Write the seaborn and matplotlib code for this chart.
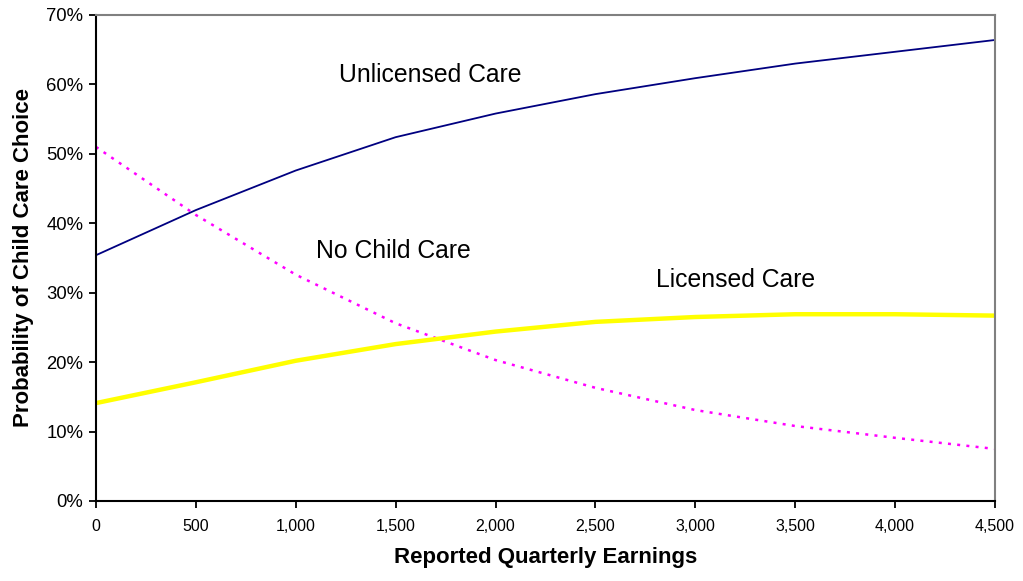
import pandas as pd
import matplotlib
matplotlib.use("Agg")
import matplotlib.pyplot as plt
import seaborn as sns
from matplotlib.ticker import FuncFormatter

earnings = [0, 500, 1000, 1500, 2000, 2500, 3000, 3500, 4000, 4500]
unlicensed = [35.4, 41.9, 47.6, 52.4, 55.8, 58.6, 60.9, 63.0, 64.7, 66.4]
no_care = [51.0, 41.2, 32.6, 25.6, 20.3, 16.3, 13.1, 10.8, 9.1, 7.5]
licensed = [14.1, 17.1, 20.2, 22.6, 24.4, 25.8, 26.5, 26.9, 26.9, 26.7]

df = pd.DataFrame({"earn": earnings, "Unlicensed Care": unlicensed,
                   "No Child Care": no_care, "Licensed Care": licensed})

sns.set_style("white")
plt.rcParams["font.family"] = ["Liberation Sans", "DejaVu Sans"]

fig = plt.figure(figsize=(10.23, 5.81), dpi=100)
ax = fig.add_axes([0.0938, 0.1377, 0.8788, 0.8365])

sns.lineplot(x=df["earn"], y=df["Unlicensed Care"], color="#000080", linewidth=1.3, ax=ax)
sns.lineplot(x=df["earn"], y=df["No Child Care"], color="#FF00FF", linewidth=1.8,
             linestyle=(0, (1.2, 2.5)), ax=ax)
sns.lineplot(x=df["earn"], y=df["Licensed Care"], color="#FFFF00", linewidth=3.2, ax=ax)

# labels on the curves
ax.text(1672, 61.4, "Unlicensed Care", fontsize=17.8, ha="center", va="center", color="black")
ax.text(1488, 36.0, "No Child Care", fontsize=17.8, ha="center", va="center", color="black")
ax.text(3203, 31.8, "Licensed Care", fontsize=17.8, ha="center", va="center", color="black")

ax.set_xlim(0, 4500)
ax.set_ylim(0, 70)
ax.set_xticks(range(0, 4501, 500))
ax.set_yticks(range(0, 71, 10))
ax.xaxis.set_major_formatter(FuncFormatter(lambda v, p: f"{int(v):,}"))
ax.yaxis.set_major_formatter(FuncFormatter(lambda v, p: f"{int(v)}%"))
ax.tick_params(axis="both", direction="out", length=5, width=1.3,
               bottom=True, left=True, colors="black")
ax.tick_params(axis="x", pad=8, labelsize=11.5)
ax.tick_params(axis="y", pad=4, labelsize=13.3)

for s in ["left", "bottom"]:
    ax.spines[s].set_color("black")
    ax.spines[s].set_linewidth(1.5)
for s in ["top", "right"]:
    ax.spines[s].set_color("gray")
    ax.spines[s].set_linewidth(1.5)

ax.set_xlabel("Reported Quarterly Earnings", fontsize=16, fontweight="bold", labelpad=9,
              color="black")
ax.set_ylabel("Probability of Child Care Choice", fontsize=16, fontweight="bold", labelpad=9,
              color="black")

fig.savefig("out.png", dpi=100)
